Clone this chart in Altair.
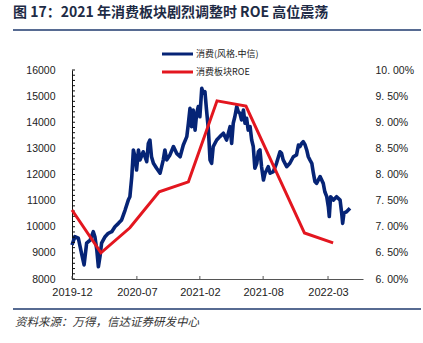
import altair as alt
import pandas as pd

# ---------------- data ----------------
idx_dates = [
    "2019-12-31", "2020-01-09", "2020-01-20", "2020-01-30", "2020-02-07", "2020-02-15",
    "2020-02-26", "2020-03-07", "2020-03-12", "2020-03-18", "2020-03-23", "2020-03-28",
    "2020-04-02", "2020-04-13", "2020-04-23", "2020-05-04", "2020-05-14", "2020-05-25",
    "2020-06-04", "2020-06-15", "2020-06-25", "2020-06-30", "2020-07-06", "2020-07-11",
    "2020-07-16", "2020-07-21", "2020-07-27", "2020-08-01", "2020-08-11", "2020-08-22",
    "2020-08-27", "2020-09-01", "2020-09-06", "2020-09-12", "2020-09-22", "2020-10-03",
    "2020-10-13", "2020-10-18", "2020-10-24", "2020-11-03", "2020-11-14", "2020-11-24",
    "2020-12-05", "2020-12-15", "2020-12-26", "2020-12-31", "2021-01-05", "2021-01-10",
    "2021-01-15", "2021-01-21", "2021-01-26", "2021-01-31", "2021-02-05", "2021-02-11",
    "2021-02-16", "2021-02-21", "2021-02-26", "2021-03-04", "2021-03-09", "2021-03-14",
    "2021-03-19", "2021-03-30", "2021-04-09", "2021-04-20", "2021-04-30", "2021-05-11",
    "2021-05-16", "2021-05-21", "2021-05-26", "2021-06-01", "2021-06-06", "2021-06-11",
    "2021-06-16", "2021-06-22", "2021-06-27", "2021-07-02", "2021-07-07", "2021-07-13",
    "2021-07-18", "2021-07-23", "2021-07-28", "2021-08-03", "2021-08-08", "2021-08-13",
    "2021-08-18", "2021-08-24", "2021-08-29", "2021-09-03", "2021-09-08", "2021-09-14",
    "2021-09-24", "2021-10-04", "2021-10-15", "2021-10-20", "2021-10-25", "2021-11-05",
    "2021-11-15", "2021-11-26", "2021-12-06", "2021-12-12", "2021-12-17", "2021-12-22",
    "2021-12-27", "2022-01-02", "2022-01-07", "2022-01-12", "2022-01-17", "2022-01-23",
    "2022-01-28", "2022-02-02", "2022-02-07", "2022-02-18", "2022-02-28", "2022-03-05",
    "2022-03-11", "2022-03-16", "2022-03-19", "2022-03-23", "2022-04-01", "2022-04-11",
    "2022-04-22", "2022-04-27", "2022-04-30", "2022-05-04", "2022-05-13", "2022-05-23",
]
idx_values = [
    9300, 9620, 9560, 8980, 8540, 9370,
    9490, 9810, 9620, 9110, 8470, 8860,
    9370, 9620, 9750, 9810, 10000, 10130,
    10260, 10640, 11020, 11150, 11920, 12940,
    12680, 12170, 12940, 12560, 12870, 12490,
    13190, 13320, 12680, 12430, 12240, 12050,
    12560, 12940, 12560, 12750, 13070, 12810,
    12680, 13130, 13450, 13960, 14530, 13830,
    14470, 13700, 14340, 14600, 14210, 15300,
    15110, 15170, 14470, 13700, 12560, 12430,
    13070, 13320, 13450, 13580, 13320, 13830,
    13190, 13960, 14210, 14600, 14400, 14340,
    14090, 14470, 13960, 14150, 13700, 13830,
    13320, 13070, 12240, 12430, 12870, 12940,
    12300, 11790, 12050, 12170, 12300, 12050,
    12110, 12430, 12870, 12810, 12560, 12300,
    12430, 12680, 12750, 13130, 13070, 13190,
    13260, 13130, 12940, 12680, 12560, 12430,
    12050, 11730, 11660, 11920, 11660, 11340,
    11150, 10770, 10390, 11150, 11020, 11150,
    11020, 10520, 10130, 10520, 10580, 10710,
]

roe_dates = ["2019-12-31", "2020-03-31", "2020-06-30", "2020-09-30", "2020-12-31",
             "2021-03-31", "2021-06-30", "2021-12-31", "2022-03-31"]
roe_values = [0.0732, 0.0650, 0.0698, 0.0767, 0.0786, 0.0941, 0.0931, 0.0688, 0.0669]

series_names = ["消费(风格.中信)", "消费板块ROE"]
series_colors = ["#062476", "#E3161F"]

x_tick_dates = ["2019-12-31", "2020-07-22", "2021-02-05", "2021-08-23", "2022-03-15"]
left_major_ticks = list(range(8000, 16001, 1000))
left_minor_ticks = list(range(8000, 16001, 200))
right_ticks = [0.06, 0.065, 0.07, 0.075, 0.08, 0.085, 0.09, 0.095, 0.10]

title_text = "图 17：2021 年消费板块剧烈调整时 ROE 高位震荡"
source_text = "资料来源：万得，信达证券研发中心"

FONT = "Noto Sans CJK SC"
LATIN = "Liberation Sans"

# ---------------- tables ----------------
idx_df = pd.DataFrame({"date": [d + "T00:00:00" for d in idx_dates], "value": idx_values})
roe_df = pd.DataFrame({"date": [d + "T00:00:00" for d in roe_dates], "value": roe_values})
xt_df = pd.DataFrame({"date": [d + "T00:00:00" for d in x_tick_dates]})
yt_df = pd.DataFrame({"value": left_minor_ticks})

x_scale = alt.Scale(domain=[alt.DateTime(year=2019, month=12, date=31),
                            alt.DateTime(year=2022, month=7, date=3)])
x_axis = alt.Axis(
    values=[alt.DateTime(year=int(d[:4]), month=int(d[5:7]), date=int(d[8:10])) for d in x_tick_dates],
    format="%Y-%m", title=None, grid=False, ticks=False, domainColor="#555555",
    labelFont=LATIN, labelFontSize=11, labelColor="#222222", labelPadding=7,
    labelOverlap=False, labelFlush=False,
)
X = alt.X("date:T", scale=x_scale, axis=x_axis)

left_scale = alt.Scale(domain=[8000, 16000], nice=False, zero=False)
left_axis = alt.Axis(
    orient="left", values=left_major_ticks, format="d", title=None, grid=False,
    ticks=False, domainColor="#111111", labelFont=LATIN, labelFontSize=10.5,
    labelColor="#222222", labelPadding=17)
YL = alt.Y("value:Q", scale=left_scale, axis=left_axis)

blue = alt.Chart(idx_df).mark_line(color=series_colors[0], strokeWidth=3.6, strokeJoin="round").encode(
    x=X, y=YL,
)

left_ticks = alt.Chart(yt_df).mark_rule(color="#111111", strokeWidth=1).encode(
    y=YL, x=alt.value(0), x2=alt.value(3),
)

bottom_ticks = alt.Chart(xt_df).mark_rule(color="#555555", strokeWidth=1).encode(
    x=X, y=alt.value(206), y2=alt.value(209),
)

red = alt.Chart(roe_df).mark_line(color=series_colors[1], strokeWidth=3, strokeJoin="miter").encode(
    x=X,
    y=alt.Y("value:Q", scale=alt.Scale(domain=[0.06, 0.10], nice=False, zero=False),
            axis=alt.Axis(orient="right", values=right_ticks,
                          labelExpr="replace(format(datum.value, '.2%'), '.', '. ')",
                          title=None, grid=False, ticks=False, domain=False,
                          labelFont=LATIN, labelFontSize=10.5, labelColor="#222222",
                          labelPadding=12)),
)

one = pd.DataFrame({"k": [0]})

def text_layer(txt, x, y, size, color, weight="normal", style="normal", font=FONT):
    return alt.Chart(pd.DataFrame({"t": [txt]})).mark_text(
        align="left", baseline="middle", fontSize=size, font=font, color=color,
        fontWeight=weight, fontStyle=style,
    ).encode(x=alt.value(x), y=alt.value(y), text="t:N")

def hline(x1, x2, y, color, w):
    return alt.Chart(one).mark_rule(color=color, strokeWidth=w).encode(
        x=alt.value(x1), x2=alt.value(x2), y=alt.value(y))

annot = [
    text_layer(title_text, -59, -57, 14, "#1E2B45", weight="bold"),
    hline(-59, 349, -40, "#1F3A6E", 1.5),
    hline(-59, 349, 239, "#1F3A6E", 1.5),
    text_layer(source_text, -57, 253, 11.5, "#333333", style="italic"),
]
legend_rows = [-16, 2]
for name, col, yy in zip(series_names, series_colors, legend_rows):
    annot.append(hline(90, 121, yy, col, 3))
    annot.append(text_layer(name, 124, yy, 9, "#222222"))

data_layers = alt.layer(alt.layer(blue, left_ticks, bottom_ticks), red).resolve_scale(y="independent")

chart = alt.layer(data_layers, *annot).properties(
    width=291, height=209,
    autosize=alt.AutoSizeParams(type="none"),
    padding={"left": 72, "top": 70, "right": 60, "bottom": 64},
    background="white",
).configure_view(stroke=None)

chart.save("out.html", embed_options={"renderer": "svg", "actions": False})
